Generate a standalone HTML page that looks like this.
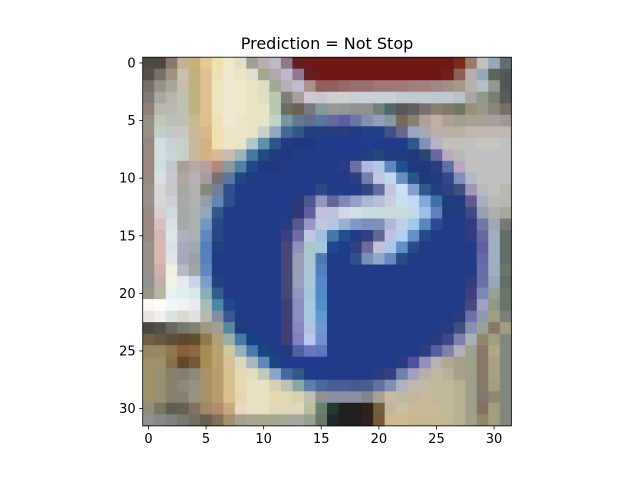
<!DOCTYPE html>
<html><head><meta charset="utf-8"><style>
html,body{margin:0;padding:0;background:#fff;}
svg{display:block;font-family:"DejaVu Sans","Liberation Sans",sans-serif;}
</style></head><body>
<svg id="chart" width="640" height="480" viewBox="0 0 640 480" xmlns="http://www.w3.org/2000/svg">
<rect width="640" height="480" fill="#fff"/>
<text x="327" y="49" text-anchor="middle" font-size="16" fill="#000">Prediction = Not Stop</text>
<g id="cells"></g>
<g id="axes"></g>
</svg>
<script>
const xTicks = [0,5,10,15,20,25,30];
const yTicks = [0,5,10,15,20,25,30];
const pixelRows = [
"4a4a44 504840 8a7868 c4b090 c8b078 e8c890 f0e0b0 f0e8c8 e0e0c8 a0a090 b8b0b0 c0b8c8 907888 602020 701818 701818 701818*11 7a2a18 a07868 c0c0c0 98a8b8 607070",
"585048 787068 a09080 c8c0a8 c0b080 e0c090 f0e0b8 f0e8d0 f0e4c0 e0e0d0 a0a890 b0a8a8 c0b8c8 907890 602020 701818 701818*10 702018 906058 b8b0b0 98a8b8 586858 505858",
"787068 989088 a8a498 c8bca8 c0b080 e0c090 f0e4c0 f0e8d0 f0e8c8 e8e4c0 e0dcc0 a0a898 b8b0b8 c0bcd0 a89090 906060 906060 986868 987070 987070 a07878 a07878 a07878 a08080 a08080 a08888 a09088 a89888 b8b0b0 b0c0c8 909890 505858",
"807878 a8a8a0 b8b4a8 c0c0b0 c0b080 e0c090 f0e4c0 f0e8d0 f0e8c8 e8e4c0 e0e0c0 b8c8b0 808078 a8a0a0 d0c8d0 c8c8d0 d0d0d0 d0d0d0 c8d0d0 c8d0d8 c8d0d8 c8d0d8 c0c8d0 c0c8d0 c0ccd0 c0c8d0 c0c8d0 b8c0c8 a8a8a0 909888 788070 585c58",
"908078 b8b8b0 b8bab0 c0c0b0 c0b080 e0c090 f0e4c0 f0e8d0 f0e8c8 ece4c0 e8e4c0 b8c8b0 687060 706050 787880 8898a0 989898 909898 909090 909090 708080 506868 585858 606060 787070 888070 807868 707860 989078 989888 888878 787068",
"989080 c0c8b8 b8c0b8 c0c0b0 c8b890 e0c090 f0e0b8 f0e8d0 f0e4c8 ece4c0 e4e4c8 c0d4c8 7898a0 607890 607088 5878a0 6868a0 5860a0 6878a8 8090b0 90a0b8 8898a0 786858 888070 b0a098 c0b0a0 b0a090 a0a090 a8a090 a8a098 a8a0a0 a09898",
"989080 c0d0c8 c0c8c8 c8c8c0 c8b898 d8b888 f0e0b0 f0e4c8 f0e4c8 e8e4c8 c8d0c8 90a8c0 486898 305888 204080 204080 283c80 283c80 203c80 204088 204088 405088 686888 98a8c0 a8a8b0 b8b0a8 b8b0a8 b8b0a0 c0b8b0*4",
"988880 d0e0e0 c8d0d8 c8d0c8 c8b8a0 d8b080 f0e0b0 f0e4c8 e8e4c8 b0c8c8 6090b0 285888 203c80 203880 203880 203c88 1e3c90*4 203c88*3 305888 8090b8 b8b0c8 c0c0b8 c0c0b8 c0c0c0 c8c4c0 c8c4c0 c0c0c0",
"988880 d0e0e0 c8d4d8 c8d0c8 c8b8a0 d8b080 d8b898 c8bcb0 a0b4b8 4878a0 204c80 203c80 203880 203c88 203c88 203c88 1e3c88*3 204080 204878 203c80 203c80 203880 284870 6868a0 b8a8c0 b8b8b8 c0c0c0*4",
"988880 d0e0e0 c0c8d0 a8a098 b8a8a8 b8a0a0 b08878 8898a0 5080a8 204888 203880 203880 203c88*4 203c88 283c88 7070a8 b0b8e0 b0c8e8 6088c0 205090 203880 203880 284080 6070a0 b8a8c0 c0c0c0*4",
"988880 d8e0e0 c8c8d0 b0a8a0 b8b0b8 a89ca0 787078 5878a0 204880 203c80 203c88*6 203c88 203c88 284080 7080a8 c0c8e0 c0d8f0 6890c0 285888 203880 203c80 304888 8090b8 b0b8c8 c0c0c0*3",
"989088 d8d8d8 c8c8c8 a8a8a0 b0b0b0 888878 708098 2c5090 203c88*7 304888 203c88*3 304880 6070a0 c0c8e0 c8e0f0 80a0d0 305888 204080 304080 405080 a098b8 b8b8c0 c0c0c0 b8b8b0",
"989088 d8d8d8 d0d0d8 a8a8a8 b0b0b0 90a0b0 6088b0 2c5088 203c88*4 1e3a88 283878 4a5a90 9098c0 606898 8088b8 90a0c8 a8b8d0 b8c0d8 c8d0e0 c8e0e8 c0d8f0 80a8d8 4070a8 203c80 203c80 605890 a8b0c0 b8b8b8 b8b8b0",
"988880 d8d0d0 d0d8e0 a8a8a8 a8b0b0 90a8c0 305888 203c88*6 303878 6060a0 c0c0d8 c0c0d8 d0d8e8 d0e0e8 c8dce0*4 c0d8e8 a0c0e8 6080c0 203c80 203c80 404888 98a0b0 b0b0b0 a8a8a0",
"988880 d8c0c0 d8e0e8 a8a8a8 a8b0b0 7098c0 284888 203c88*5 283c80 585890 9898c0 c0c8e0 b0c8e0 98b0d8 8098c8 7890c0 8090b8 b0b8d8 c0d0e8 a0c8e8 5888c0 284c90 203c88 203c88 303c80 7078a8 a0a8b0 787878",
"988880 d0b8b8 e0e4e8 b0b0c0 a8b0b0 6088c0 284888 203c88*5 384080 706ca8 c0c8e0 a0c0e0 4878a8 205090 203c88 304080 606890 c0c0e0 b0d0f0 6090c8 284888 203c88*3 303c80 6868a0 a0b0c0 607068",
"989088 d8b8b0 d8e0e8 a8a8c0 a0a8b0 5080c0 204080 203c88*5 484878 9090b8 a8c8d0 a8c8d8 204890 1e3c88 304080 706898 c0c0d8 a8c8e8 6090c8 284c88 203c88*5 6060a0 a0b0c0 607068",
"989088 d8b8b0 e0e4e8 a8a8c0 98a0a8 5880c0 203c88*6 484878 98a0b8 a8c8d0 5078b0 203c88 1e3c88 305090 7890b8 90a8c8 6888c0 284c88 203c88*6 6868a8 a0b0c0 607068",
"989088 d0b0a8 f0f0e0 b8b8c8 a0a8a0 6088c0 203c88*6 484878 98a0b8 a8c8d8 5080c0 203c88*13 6870a8 a0b0c0 687868",
"909090 c0b0a8 f0f4e8 e8e8f0 c8d4e8 78a0c8 204480 203c88*5 484878 98a0c0 a8c8d8 5088c8 203c88*12 303c80 6870a8 98a8b8 607068",
"989888 b8b8a0 e8f0f0 e0f0f0 d8e8e8 88b0b8 306088 203c88*5 484878 9098c0 a0c8d8 5088c8 203c88*12 404080 7888b8 98a098 687868",
"fff8f0 fffcf8 f0f8f8 f0f4f0 e8ecf0 a8bcb8 4888a8 204888 203c88*4 404078 8890c0 a8c8e0 5090c8 203c88*12 484880 a0a0c0 909888 687868",
"e8e4e0 f0f0f0 d8e4e0 d8d8d0 e0e0e0 b8b8b0 8090a0 3a5890 203c80 203c88*3 404078 8890c0 a8c8e0 6098d0 203c88*11 2a3c80 7070a8 9098b0 a0a080 788078",
"484840 505048 686860 787868 808070 a09880 a0a090 5888a0 203c80 203c88*3 404078 8888c0 b0c4e0 7098d0 203c88*10 283c80 405080 8890b0 98a098 887868 a0a080",
"706048 685840 605038 604830 605030 907850 b0a078 98b0a8 4878a8 184080 203c88 203c88 404078 8080c0 b8c8f0 7090d0 203c88*9 2a3c80 404888 8080b0 a8b0b8 908868 a0a080 808880",
"988860 988860 907848 886038 906840 a88c58 b8a070 d0c8a0 98b0b8 4878b0 184880 203c88 203c80 5060a0 6878c0 5878c0 203c88*8 303c80 5060a0 8080a8 b0b0b8 a0a090 887868 b0a880 808880",
"a09068 a09068 887050 604828 785838 a88c58 b8a070 d8c098 d8d8c0 a8b8c0 6088b8 184880 203c88 203c90 203c90 203c90 203c88*6 283c80 5050a0 9090c0 b8b0b0 b0a890 a8a088 a0a088 887868 a8a080 808880",
"a09068 989070 888068 808070 908878 a89068 b89c70 d8c090 e8d8b0 e0dcc0 c0c8b8 88a8c8 4868a0 305888 1e3c88 1e3c88 203c88*4 283c80 384080 7080a8 a0a0c0 b8b0a8 c0b8a0 b8b098 a8a088 a0a088 887868 a8a080 808880",
"a09068 989070 888068 908878 989080 a89068 b89c70 d8c090 e8d8b0 e8e0c0 e8e0c0 d8d0b0 c0c0b0 88a8a8 5880a8 4868a0 485c98 485c98 4a5890 486088 6070a0 8090b0 b0b0c0 c0b8b0 c0b8a0 c0b898 c0b898 b8b090 a0a088 887868 a0a080 808880",
"a09068 989070 888068 888070 989080 a89068 b89c70 d8c090 e8d4b0 e8e0c0 e8e0c0 e8d8b0 e0d8b0 d8d0b0 c0c0b0 909090 8890a0 8890a0 8890a0 808888 a8a090 c8b8a0 c0b8a0 c0b898 c8b898 c0b898 c0b898 b8b090 a0a088 807870 908870 808880",
"909078 787860 606050 686050 887060 a08868 b08c68 c8a880 e8d8c0 e8e0c0 e8e0c0 e0d8b8 e0d8b8 e0d8b8 b8c0a0 688070 203830 202020 202020 302018 706040 c0b898 c8c0a0 c8b898 c8b898 c8b898 c0b898 b8b090 a0a088 887060 a0a080 808880",
"909090 888888 808080 787870 707060 686050 807058 a09070 a8a090 a8a890 a8a890 a8a890 a8a898 a8a8a0 98a090 687868 202830 202020 202020 302020 785838 d0b890 d0b890 c8b890 c8b890 c8b890 c0b890 b8b090 a0a088 908868 a0a080 808880"
];

const NS = "http://www.w3.org/2000/svg";
const X0 = 142.7, Y0 = 57.2, CELL = 11.52;
function xPos(i){ return X0 + i*CELL; }
function yPos(j){ return Y0 + j*CELL; }
function expand(s){
  const out = [];
  s.trim().split(/\s+/).forEach(t => {
    const p = t.split('*');
    const n = p.length > 1 ? parseInt(p[1]) : 1;
    for (let k = 0; k < n; k++) out.push('#' + p[0]);
  });
  return out;
}
const cellsG = document.getElementById('cells');
pixelRows.forEach((row, j) => {
  expand(row).forEach((c, i) => {
    const r = document.createElementNS(NS, 'rect');
    r.setAttribute('x', xPos(i));
    r.setAttribute('y', yPos(j));
    r.setAttribute('width', CELL + 0.4);
    r.setAttribute('height', CELL + 0.4);
    r.setAttribute('fill', c);
    
    
    cellsG.appendChild(r);
  });
});
const nCols = 32, nRows = pixelRows.length;
const axesG = document.getElementById('axes');
const frame = document.createElementNS(NS, 'rect');
frame.setAttribute('x', X0); frame.setAttribute('y', Y0);
frame.setAttribute('width', nCols*CELL); frame.setAttribute('height', nRows*CELL);
frame.setAttribute('fill', 'none'); frame.setAttribute('stroke', '#000'); frame.setAttribute('stroke-width', '0.8');


axesG.appendChild(frame);
const bottom = Y0 + nRows*CELL;
xTicks.forEach(t => {
  const x = xPos(t) + CELL/2;
  const l = document.createElementNS(NS, 'line');
  l.setAttribute('x1', x); l.setAttribute('x2', x);
  l.setAttribute('y1', bottom); l.setAttribute('y2', bottom + 3.5);
  l.setAttribute('stroke', '#000'); l.setAttribute('stroke-width', '0.8');
  
  
  axesG.appendChild(l);
  const tx = document.createElementNS(NS, 'text');
  tx.setAttribute('x', x); tx.setAttribute('y', bottom + 17);
  tx.setAttribute('text-anchor', 'middle'); tx.setAttribute('font-size', '13');
  tx.textContent = t;
  
  
  axesG.appendChild(tx);
});
yTicks.forEach(t => {
  const y = yPos(t) + CELL/2;
  const l = document.createElementNS(NS, 'line');
  l.setAttribute('x1', X0 - 3.5); l.setAttribute('x2', X0);
  l.setAttribute('y1', y); l.setAttribute('y2', y);
  l.setAttribute('stroke', '#000'); l.setAttribute('stroke-width', '0.8');
  
  
  axesG.appendChild(l);
  const tx = document.createElementNS(NS, 'text');
  tx.setAttribute('x', X0 - 7); tx.setAttribute('y', y + 4.5);
  tx.setAttribute('text-anchor', 'end'); tx.setAttribute('font-size', '13');
  tx.textContent = t;
  
  
  axesG.appendChild(tx);
});
</script>
</body></html>
